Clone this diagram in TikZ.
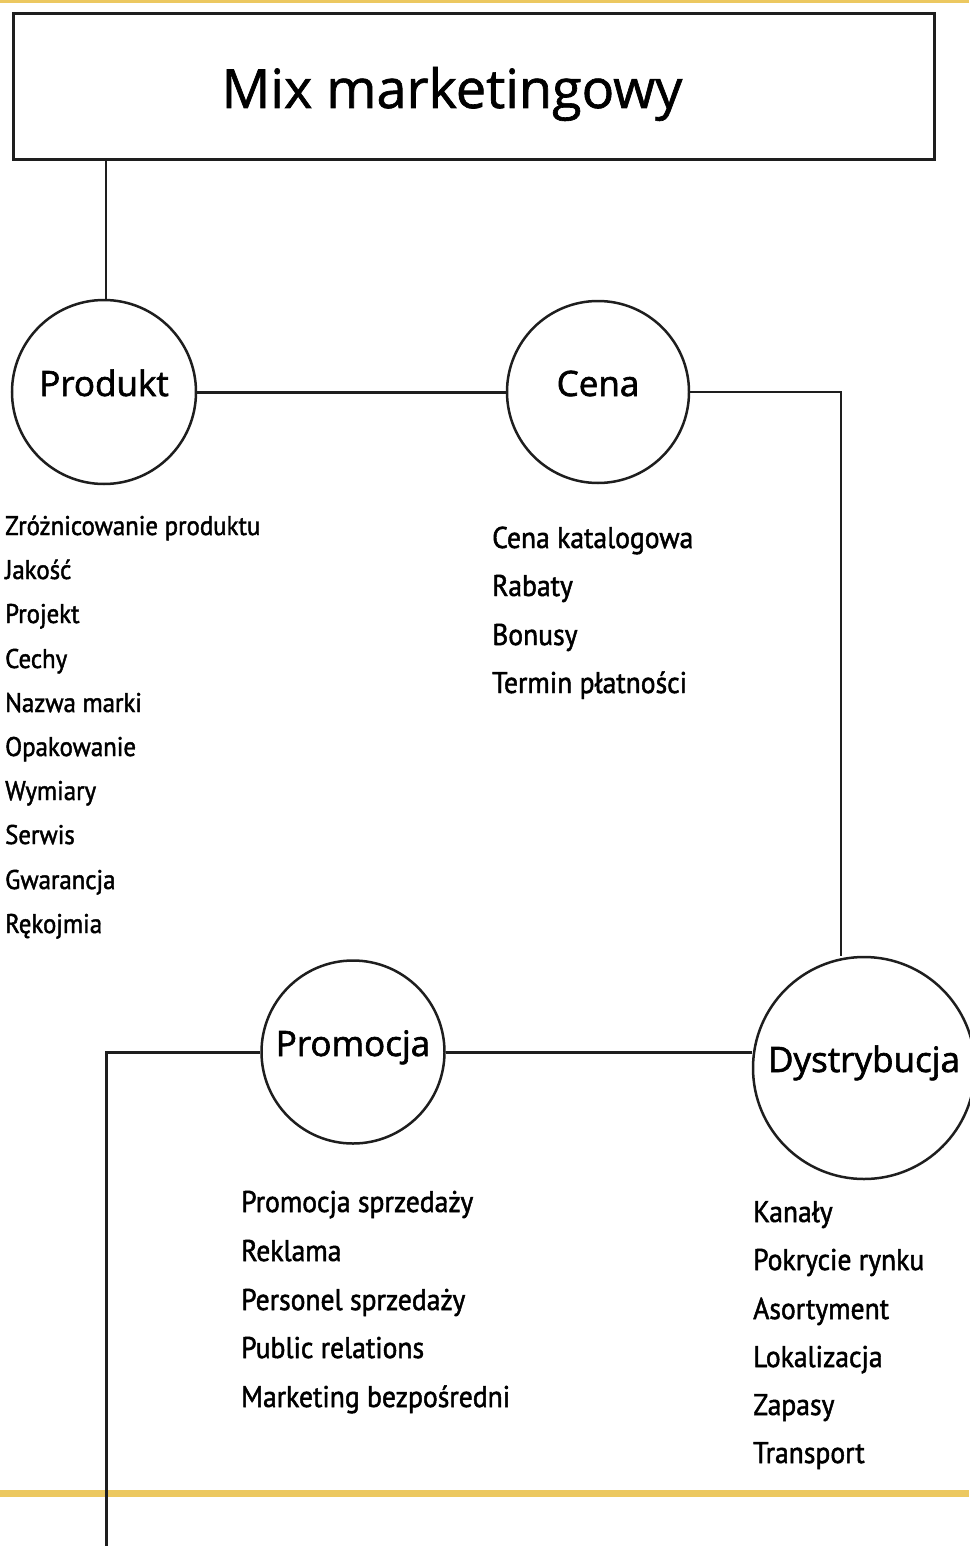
\documentclass[tikz,border=0pt]{standalone}
\usepackage{fontspec}
\setmainfont{Open Sans}
\newfontfamily\listafont{PT Sans}[FakeBold=1.6, FakeStretch=0.92]
\newfontfamily\krojkrag{Open Sans}[FakeBold=1.8]
\newfontfamily\krojtytul{Open Sans}[FakeBold=1.2]
\usetikzlibrary{backgrounds}
\definecolor{zolty}{RGB}{236,200,96}
\definecolor{kreska}{RGB}{30,30,30}
\tikzset{
  ramka/.style={draw=kreska, line width=3pt, minimum width=921pt, minimum height=146pt, inner sep=0pt},
  krag/.style={circle, draw=kreska, line width=2.5pt, fill=white, inner sep=0pt,
    text height=28pt, text depth=20pt, font=\krojkrag\fontsize{35}{40}\selectfont},
  pozycja/.style={anchor=base west, inner sep=0pt, font=\listafont\fontsize{30}{32}\selectfont},
  pozycjamala/.style={pozycja, font=\listafont\fontsize{27}{30}\selectfont},
  linia/.style={draw=kreska, line width=2pt},
  gruba/.style={draw=kreska, line width=3pt},
}

\begin{document}
\begin{tikzpicture}[x=1pt,y=-1pt]
\useasboundingbox (0,0) rectangle (969,1546);
% naglowek
\node[ramka] (tytul) at (473.5,87) {};
\node[font=\krojtytul\fontsize{54}{60}\selectfont, inner sep=0pt, anchor=base] (napis) at (452,108) {Mix marketingowy};
% cztery P
\node[krag, minimum size=184pt] (produkt) at (104,392) {Produkt};
\node[krag, minimum size=182pt] (cena) at (598,392) {Cena};
\node[krag, minimum size=183pt] (promocja) at (353,1052) {Promocja};
\node[krag, minimum size=222pt] (dystrybucja) at (864,1068) {Dystrybucja};
% produkt
\node[pozycjamala] (p1) at (5,535) {Zróżnicowanie produktu};
\node[pozycjamala] (p2) at (5,579) {Jakość};
\node[pozycjamala] (p3) at (5,623) {Projekt};
\node[pozycjamala] (p4) at (5,668) {Cechy};
\node[pozycjamala] (p5) at (5,712) {Nazwa marki};
\node[pozycjamala] (p6) at (5,756) {Opakowanie};
\node[pozycjamala] (p7) at (5,800) {Wymiary};
\node[pozycjamala] (p8) at (5,844) {Serwis};
\node[pozycjamala] (p9) at (5,889) {Gwarancja};
\node[pozycjamala] (p10) at (5,933) {Rękojmia};
% cena
\node[pozycja] (c1) at (492,548) {Cena katalogowa};
\node[pozycja] (c2) at (492,596) {Rabaty};
\node[pozycja] (c3) at (492,645) {Bonusy};
\node[pozycja] (c4) at (492,693) {Termin płatności};
% promocja
\node[pozycja] (r1) at (241,1212) {Promocja sprzedaży};
\node[pozycja] (r2) at (241,1261) {Reklama};
\node[pozycja] (r3) at (241,1310) {Personel sprzedaży};
\node[pozycja] (r4) at (241,1358) {Public relations};
\node[pozycja] (r5) at (241,1407) {Marketing bezpośredni};
% dystrybucja
\node[pozycja] (d1) at (753,1222) {Kanały};
\node[pozycja] (d2) at (753,1270) {Pokrycie rynku};
\node[pozycja] (d3) at (753,1319) {Asortyment};
\node[pozycja] (d4) at (753,1367) {Lokalizacja};
\node[pozycja] (d5) at (753,1415) {Zapasy};
\node[pozycja] (d6) at (753,1463) {Transport};
\coordinate (zakret) at (841,392);
\coordinate (pion) at (106,160);
\coordinate (dol) at (106,1546);
\begin{scope}[on background layer]
\fill[zolty] (0,0) rectangle (969,3);
\fill[zolty] (0,1490) rectangle (969,1497);
\draw[linia] (pion) -- (pion |- produkt.north);
\draw[gruba] (produkt.east) -- (cena.west);
\draw[linia] (cena.east) -- (zakret) -- (zakret |- dystrybucja.north);
\draw[gruba] (promocja.east) -- (promocja.east -| dystrybucja.west);
\draw[gruba] (promocja.west) -| (dol);
\end{scope}
\end{tikzpicture}
\end{document}
